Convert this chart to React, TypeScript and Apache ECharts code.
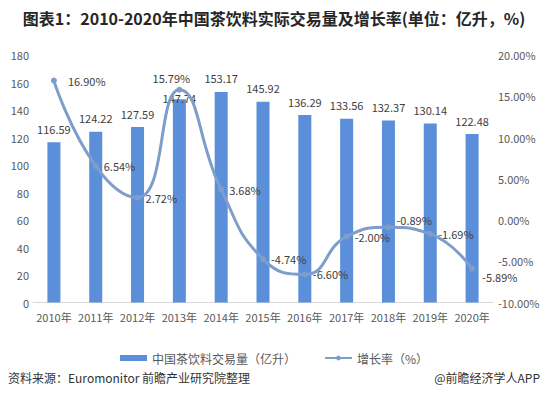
import React, { useEffect, useRef } from "react";
import * as echarts from "echarts";

const years = ["2010年", "2011年", "2012年", "2013年", "2014年", "2015年", "2016年", "2017年", "2018年", "2019年", "2020年"];
const volume = [116.59, 124.22, 127.59, 147.74, 153.17, 145.92, 136.29, 133.56, 132.37, 130.14, 122.48];
const growth = [16.9, 6.54, 2.72, 15.79, 3.68, -4.74, -6.6, -2.0, -0.89, -1.69, -5.89];

const FONT = "'Noto Sans CJK SC', 'Noto Sans', sans-serif";

export default function App() {
  const ref = useRef<HTMLDivElement>(null);
  useEffect(() => {
    if (!ref.current) return;
    const chart = echarts.init(ref.current, null, { renderer: "svg" });
    const growthData = growth.map((v, i) => {
      const item: any = { value: v };
      if (i === 3) item.label = { position: "top", offset: [-8, 2] };
      if (i === 0) item.label = { offset: [6, 0] };
      if (i === 8) item.label = { offset: [0, -7] };
      if (i === 10) item.label = { offset: [2, 8] };
      return item;
    });
    const volumeData = volume.map((v, i) => {
      const item: any = { value: v };
      if (i === 3) item.label = { offset: [0, 12] };
      return item;
    });
    chart.setOption({
      animation: false,
      textStyle: { fontFamily: FONT },
      title: {
        text: "图表1：2010-2020年中国茶饮料实际交易量及增长率(单位：亿升，%)",
        left: "center",
        top: 5,
        textStyle: { fontSize: 16, fontWeight: "bold", color: "#262626", fontFamily: FONT },
      },
      graphic: [
        {
          type: "text",
          left: 8,
          top: 371,
          style: { text: "资料来源：Euromonitor 前瞻产业研究院整理", fill: "#333", font: `12px ${FONT}` },
        },
        {
          type: "text",
          right: 8,
          top: 371,
          style: { text: "@前瞻经济学人APP", fill: "#333", font: `12px ${FONT}` },
        },
      ],
      legend: {
        top: 347,
        left: "center",
        itemGap: 28,
        itemWidth: 27,
        itemHeight: 6,
        textStyle: { fontSize: 12, color: "#595959", fontFamily: FONT },
        data: [
          { name: "中国茶饮料交易量（亿升）", icon: "rect" },
          { name: "增长率（%）" },
        ],
      },
      grid: { left: 33, right: 55, top: 55, bottom: 93.5, containLabel: false },
      xAxis: {
        type: "category",
        data: years,
        axisLine: { lineStyle: { color: "#d9d9d9" } },
        axisTick: { show: false },
        axisLabel: { color: "#595959", fontSize: 11, margin: 9, interval: 0, fontFamily: FONT },
      },
      yAxis: [
        {
          type: "value",
          min: 0,
          max: 180,
          interval: 20,
          splitLine: { show: false },
          axisLine: { show: false },
          axisTick: { show: false },
          axisLabel: { color: "#595959", fontSize: 11, margin: 4, fontFamily: FONT },
        },
        {
          type: "value",
          min: -10,
          max: 20,
          interval: 5,
          splitLine: { show: false },
          axisLine: { show: false },
          axisTick: { show: false },
          axisLabel: {
            color: "#595959",
            fontSize: 11,
            margin: 5,
            fontFamily: FONT,
            formatter: (v: number) => v.toFixed(2) + "%",
          },
        },
      ],
      series: [
        {
          name: "中国茶饮料交易量（亿升）",
          type: "bar",
          data: volumeData,
          barWidth: 13,
          itemStyle: { color: "#5B8FDA" },
          label: {
            show: true,
            position: "top",
            distance: 8,
            color: "#404040",
            fontSize: 11,
            fontFamily: FONT,
            formatter: (p: any) => p.value.toFixed(2),
          },
        },
        {
          name: "增长率（%）",
          type: "line",
          yAxisIndex: 1,
          data: growthData,
          smooth: 0.5,
          symbol: "circle",
          symbolSize: 6,
          lineStyle: { color: "#7F9DCB", width: 3 },
          itemStyle: { color: "#7F9DCB" },
          label: {
            show: true,
            position: "right",
            distance: 5,
            color: "#404040",
            fontSize: 11,
            fontFamily: FONT,
            formatter: (p: any) => p.value.toFixed(2) + "%",
          },
          z: 3,
        },
      ],
    });
    return () => chart.dispose();
  }, []);
  return <div ref={ref} style={{ width: 548, height: 396, position: "absolute", left: 0, top: 0 }} />;
}
